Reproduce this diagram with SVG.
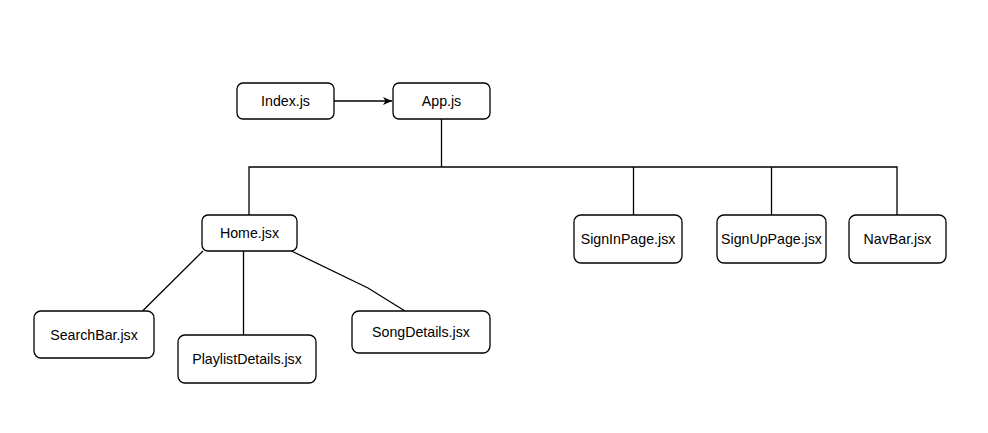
<svg xmlns="http://www.w3.org/2000/svg" width="988" height="433" viewBox="0 0 988 433">
<style>
.n rect{fill:#fff;stroke:#000;stroke-width:1.3}
.n text{font-family:"Liberation Sans",Arial,sans-serif;font-size:14.2px;fill:#000;text-anchor:middle;dominant-baseline:central}
.c{fill:none;stroke:#000;stroke-width:1.3}
</style>
<defs>
<marker id="ah" markerWidth="10" markerHeight="10" refX="9" refY="5" orient="auto" markerUnits="userSpaceOnUse">
<path d="M0,1 L9,5 L0,9 L2.5,5 Z" fill="#000"/>
</marker>
</defs>
<rect width="988" height="433" fill="#fff"/>
<g id="connectors">
<path class="c" d="M334,101 L392,101" marker-end="url(#ah)"/>
<path class="c" d="M441.5,119 L441.5,167"/>
<path class="c" d="M249,215 L249,167 L897,167 L897,215"/>
<path class="c" d="M633.5,167 L633.5,215"/>
<path class="c" d="M771.5,167 L771.5,215"/>
<path class="c" d="M203,251 L142.5,311"/>
<path class="c" d="M243.5,251 L243.5,335"/>
<path class="c" d="M291.5,251 L368,288 L405,311"/>
</g>
<g id="index" class="n"><rect x="237" y="83" width="97" height="36" rx="6"/><text x="285.5" y="101">Index.js</text></g>
<g id="app" class="n"><rect x="393" y="83" width="97" height="36" rx="6"/><text x="441.5" y="101">App.js</text></g>
<g id="home" class="n"><rect x="202" y="215" width="95" height="36" rx="6"/><text x="249.5" y="233">Home.jsx</text></g>
<g id="signin" class="n"><rect x="574" y="215" width="108" height="48" rx="7"/><text x="628" y="239">SignInPage.jsx</text></g>
<g id="signup" class="n"><rect x="717" y="215" width="109" height="48" rx="7"/><text x="771.5" y="239">SignUpPage.jsx</text></g>
<g id="navbar" class="n"><rect x="849" y="215" width="97" height="48" rx="7"/><text x="897.5" y="239">NavBar.jsx</text></g>
<g id="searchbar" class="n"><rect x="34" y="311" width="120" height="47" rx="7"/><text x="94" y="334.5">SearchBar.jsx</text></g>
<g id="playlist" class="n"><rect x="178" y="335" width="138" height="48" rx="7"/><text x="247" y="359">PlaylistDetails.jsx</text></g>
<g id="songdetails" class="n"><rect x="352" y="311" width="138" height="42" rx="7"/><text x="421" y="332">SongDetails.jsx</text></g>
</svg>
